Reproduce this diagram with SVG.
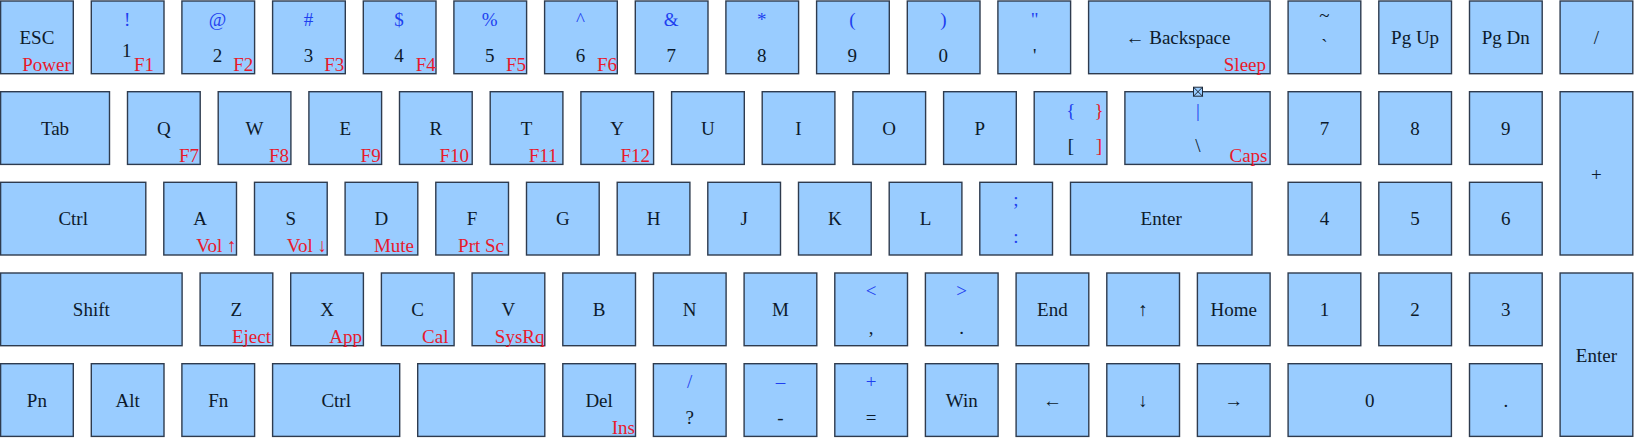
<svg xmlns="http://www.w3.org/2000/svg" width="1634" height="440" viewBox="0 0 1634 440">
<style>
.k{fill:#99ccff;stroke:#2e3b4e;stroke-width:1.4}
text{font-family:"Liberation Serif","Times New Roman",serif;font-size:19px}
.l{fill:#0d1a2b;text-anchor:middle}
.s{fill:#1e3ff0;text-anchor:middle}
.f{fill:#e8192c;text-anchor:end}
.fm{fill:#e8192c;text-anchor:middle}
.ic{fill:#99ccff;stroke:#1e2a3a;stroke-width:1}
</style>
<rect width="1634" height="440" fill="#ffffff"/>
<g id="connectors"></g>
<!-- Row 1 -->
<g id="key-esc"><rect class="k" x="0.6" y="1" width="72.7" height="72.7"/><text class="l" x="36.9" y="43.8">ESC</text><text class="f" x="70.8" y="71">Power</text></g>
<g id="key-1"><rect class="k" x="91.3" y="1" width="72.7" height="72.7"/><text class="s" x="127.1" y="26">!</text><text class="l" x="126.8" y="57">1</text><text class="f" x="154" y="71">F1</text></g>
<g id="key-2"><rect class="k" x="181.9" y="1" width="72.7" height="72.7"/><text class="s" x="217.5" y="26">@</text><text class="l" x="217.5" y="61.7">2</text><text class="f" x="253.3" y="71">F2</text></g>
<g id="key-3"><rect class="k" x="272.6" y="1" width="72.7" height="72.7"/><text class="s" x="308.4" y="26">#</text><text class="l" x="308.4" y="61.7">3</text><text class="f" x="344.3" y="71">F3</text></g>
<g id="key-4"><rect class="k" x="363.3" y="1" width="72.7" height="72.7"/><text class="s" x="399.1" y="26">$</text><text class="l" x="399.1" y="61.7">4</text><text class="f" x="435.8" y="71">F4</text></g>
<g id="key-5"><rect class="k" x="453.9" y="1" width="72.7" height="72.7"/><text class="s" x="489.7" y="26">%</text><text class="l" x="489.7" y="61.7">5</text><text class="f" x="526" y="71">F5</text></g>
<g id="key-6"><rect class="k" x="544.6" y="1" width="72.7" height="72.7"/><text class="s" x="580.4" y="26">^</text><text class="l" x="580.4" y="61.7">6</text><text class="f" x="617" y="71">F6</text></g>
<g id="key-7"><rect class="k" x="635.3" y="1" width="72.7" height="72.7"/><text class="s" x="671.2" y="26">&amp;</text><text class="l" x="671.2" y="61.7">7</text></g>
<g id="key-8"><rect class="k" x="725.9" y="1" width="72.7" height="72.7"/><text class="s" x="761.8" y="26">*</text><text class="l" x="761.8" y="61.7">8</text></g>
<g id="key-9"><rect class="k" x="816.6" y="1" width="72.7" height="72.7"/><text class="s" x="852.3" y="26">(</text><text class="l" x="852.3" y="61.7">9</text></g>
<g id="key-0"><rect class="k" x="907.3" y="1" width="72.7" height="72.7"/><text class="s" x="943.3" y="26">)</text><text class="l" x="943.3" y="61.7">0</text></g>
<g id="key-quote"><rect class="k" x="997.9" y="1" width="72.7" height="72.7"/><text class="s" x="1034.7" y="26">"</text><text class="l" x="1034.7" y="61.7">'</text></g>
<g id="key-backspace"><rect class="k" x="1088.6" y="1" width="181.5" height="72.7"/><text class="l" x="1178" y="43.8">← Backspace</text><text class="f" x="1266" y="71">Sleep</text></g>
<g id="key-tilde"><rect class="k" x="1288.1" y="1" width="72.7" height="72.7"/><text class="l" x="1324.4" y="21.5">~</text><text class="l" x="1324.4" y="52">`</text></g>
<g id="key-pgup"><rect class="k" x="1378.8" y="1" width="72.7" height="72.7"/><text class="l" x="1415.1" y="43.8">Pg Up</text></g>
<g id="key-pgdn"><rect class="k" x="1469.5" y="1" width="72.7" height="72.7"/><text class="l" x="1505.8" y="43.8">Pg Dn</text></g>
<g id="key-numslash"><rect class="k" x="1560.1" y="1" width="72.7" height="72.7"/><text class="l" x="1596.4" y="43.8">/</text></g>
<!-- Row 2 -->
<g id="key-tab"><rect class="k" x="0.6" y="91.7" width="108.9" height="72.7"/><text class="l" x="55" y="134.5">Tab</text></g>
<g id="key-q"><rect class="k" x="127.5" y="91.7" width="72.7" height="72.7"/><text class="l" x="163.8" y="134.5">Q</text><text class="f" x="199" y="161.7">F7</text></g>
<g id="key-w"><rect class="k" x="218.2" y="91.7" width="72.7" height="72.7"/><text class="l" x="254.5" y="134.5">W</text><text class="f" x="289" y="161.7">F8</text></g>
<g id="key-e"><rect class="k" x="308.9" y="91.7" width="72.7" height="72.7"/><text class="l" x="345.2" y="134.5">E</text><text class="f" x="380.7" y="161.7">F9</text></g>
<g id="key-r"><rect class="k" x="399.5" y="91.7" width="72.7" height="72.7"/><text class="l" x="435.8" y="134.5">R</text><text class="f" x="469" y="161.7">F10</text></g>
<g id="key-t"><rect class="k" x="490.2" y="91.7" width="72.7" height="72.7"/><text class="l" x="526.5" y="134.5">T</text><text class="f" x="557.5" y="161.7">F11</text></g>
<g id="key-y"><rect class="k" x="580.9" y="91.7" width="72.7" height="72.7"/><text class="l" x="617.2" y="134.5">Y</text><text class="f" x="650" y="161.7">F12</text></g>
<g id="key-u"><rect class="k" x="671.6" y="91.7" width="72.7" height="72.7"/><text class="l" x="707.9" y="134.5">U</text></g>
<g id="key-i"><rect class="k" x="762.2" y="91.7" width="72.7" height="72.7"/><text class="l" x="798.5" y="134.5">I</text></g>
<g id="key-o"><rect class="k" x="852.9" y="91.7" width="72.7" height="72.7"/><text class="l" x="889.2" y="134.5">O</text></g>
<g id="key-p"><rect class="k" x="943.6" y="91.7" width="72.7" height="72.7"/><text class="l" x="979.9" y="134.5">P</text></g>
<g id="key-bracket"><rect class="k" x="1034.2" y="91.7" width="72.7" height="72.7"/><text class="s" x="1070.8" y="116.7">{</text><text class="fm" x="1099" y="116.7">}</text><text class="l" x="1071" y="152.4">[</text><text class="fm" x="1099" y="152.4">]</text></g>
<g id="key-backslash"><rect class="k" x="1124.9" y="91.7" width="145.2" height="72.7"/><rect class="ic" x="1193.5" y="87.2" width="9" height="9"/><path d="M1193.5 87.2L1202.5 96.2M1202.5 87.2L1193.5 96.2" stroke="#1e2a3a" stroke-width="1"/><text class="s" x="1198" y="116.7">|</text><text class="l" x="1198" y="152.4">\</text><text class="f" x="1267.5" y="161.7">Caps</text></g>
<g id="key-num7"><rect class="k" x="1288.1" y="91.7" width="72.7" height="72.7"/><text class="l" x="1324.4" y="134.5">7</text></g>
<g id="key-num8"><rect class="k" x="1378.8" y="91.7" width="72.7" height="72.7"/><text class="l" x="1415.1" y="134.5">8</text></g>
<g id="key-num9"><rect class="k" x="1469.5" y="91.7" width="72.7" height="72.7"/><text class="l" x="1505.8" y="134.5">9</text></g>
<g id="key-numplus"><rect class="k" x="1560.1" y="91.7" width="72.7" height="163.3"/><text class="l" x="1596.4" y="181">+</text></g>
<!-- Row 3 -->
<g id="key-ctrl-l"><rect class="k" x="0.6" y="182.3" width="145.2" height="72.7"/><text class="l" x="73.2" y="225.1">Ctrl</text></g>
<g id="key-a"><rect class="k" x="163.8" y="182.3" width="72.7" height="72.7"/><text class="l" x="200.1" y="225.1">A</text><text class="f" x="236.5" y="252.3">Vol ↑</text></g>
<g id="key-s"><rect class="k" x="254.5" y="182.3" width="72.7" height="72.7"/><text class="l" x="290.8" y="225.1">S</text><text class="f" x="327" y="252.3">Vol ↓</text></g>
<g id="key-d"><rect class="k" x="345.1" y="182.3" width="72.7" height="72.7"/><text class="l" x="381.4" y="225.1">D</text><text class="f" x="414" y="252.3">Mute</text></g>
<g id="key-f"><rect class="k" x="435.8" y="182.3" width="72.7" height="72.7"/><text class="l" x="472.1" y="225.1">F</text><text class="f" x="504" y="252.3">Prt Sc</text></g>
<g id="key-g"><rect class="k" x="526.5" y="182.3" width="72.7" height="72.7"/><text class="l" x="562.8" y="225.1">G</text></g>
<g id="key-h"><rect class="k" x="617.2" y="182.3" width="72.7" height="72.7"/><text class="l" x="653.5" y="225.1">H</text></g>
<g id="key-j"><rect class="k" x="707.8" y="182.3" width="72.7" height="72.7"/><text class="l" x="744.1" y="225.1">J</text></g>
<g id="key-k"><rect class="k" x="798.5" y="182.3" width="72.7" height="72.7"/><text class="l" x="834.8" y="225.1">K</text></g>
<g id="key-l"><rect class="k" x="889.2" y="182.3" width="72.7" height="72.7"/><text class="l" x="925.5" y="225.1">L</text></g>
<g id="key-semicolon"><rect class="k" x="979.8" y="182.3" width="72.7" height="72.7"/><text class="s" x="1015.8" y="206.3">;</text><text class="s" x="1015.8" y="243">:</text></g>
<g id="key-enter"><rect class="k" x="1070.5" y="182.3" width="181.5" height="72.7"/><text class="l" x="1161.2" y="225.1">Enter</text></g>
<g id="key-num4"><rect class="k" x="1288.1" y="182.3" width="72.7" height="72.7"/><text class="l" x="1324.4" y="225.1">4</text></g>
<g id="key-num5"><rect class="k" x="1378.8" y="182.3" width="72.7" height="72.7"/><text class="l" x="1415.1" y="225.1">5</text></g>
<g id="key-num6"><rect class="k" x="1469.5" y="182.3" width="72.7" height="72.7"/><text class="l" x="1505.8" y="225.1">6</text></g>
<!-- Row 4 -->
<g id="key-shift"><rect class="k" x="0.6" y="273" width="181.5" height="72.7"/><text class="l" x="91.3" y="315.8">Shift</text></g>
<g id="key-z"><rect class="k" x="200.1" y="273" width="72.7" height="72.7"/><text class="l" x="236.4" y="315.8">Z</text><text class="f" x="271" y="343">Eject</text></g>
<g id="key-x"><rect class="k" x="290.7" y="273" width="72.7" height="72.7"/><text class="l" x="327" y="315.8">X</text><text class="f" x="362" y="343">App</text></g>
<g id="key-c"><rect class="k" x="381.4" y="273" width="72.7" height="72.7"/><text class="l" x="417.7" y="315.8">C</text><text class="f" x="448.5" y="343">Cal</text></g>
<g id="key-v"><rect class="k" x="472.1" y="273" width="72.7" height="72.7"/><text class="l" x="508.4" y="315.8">V</text><text class="f" x="544.5" y="343">SysRq</text></g>
<g id="key-b"><rect class="k" x="562.8" y="273" width="72.7" height="72.7"/><text class="l" x="599.1" y="315.8">B</text></g>
<g id="key-n"><rect class="k" x="653.4" y="273" width="72.7" height="72.7"/><text class="l" x="689.7" y="315.8">N</text></g>
<g id="key-m"><rect class="k" x="744.1" y="273" width="72.7" height="72.7"/><text class="l" x="780.4" y="315.8">M</text></g>
<g id="key-comma"><rect class="k" x="834.8" y="273" width="72.7" height="72.7"/><text class="s" x="871.1" y="297">&lt;</text><text class="l" x="871.1" y="333.7">,</text></g>
<g id="key-period"><rect class="k" x="925.4" y="273" width="72.7" height="72.7"/><text class="s" x="961.7" y="297">&gt;</text><text class="l" x="961.7" y="333.7">.</text></g>
<g id="key-end"><rect class="k" x="1016.1" y="273" width="72.7" height="72.7"/><text class="l" x="1052.4" y="315.8">End</text></g>
<g id="key-up"><rect class="k" x="1106.8" y="273" width="72.7" height="72.7"/><text class="l" x="1143.1" y="315.8">↑</text></g>
<g id="key-home"><rect class="k" x="1197.4" y="273" width="72.7" height="72.7"/><text class="l" x="1233.7" y="315.8">Home</text></g>
<g id="key-num1"><rect class="k" x="1288.1" y="273" width="72.7" height="72.7"/><text class="l" x="1324.4" y="315.8">1</text></g>
<g id="key-num2"><rect class="k" x="1378.8" y="273" width="72.7" height="72.7"/><text class="l" x="1415.1" y="315.8">2</text></g>
<g id="key-num3"><rect class="k" x="1469.5" y="273" width="72.7" height="72.7"/><text class="l" x="1505.8" y="315.8">3</text></g>
<g id="key-numenter"><rect class="k" x="1560.1" y="273" width="72.7" height="163.3"/><text class="l" x="1596.4" y="361.7">Enter</text></g>
<!-- Row 5 -->
<g id="key-pn"><rect class="k" x="0.6" y="363.7" width="72.7" height="72.7"/><text class="l" x="36.9" y="406.5">Pn</text></g>
<g id="key-alt"><rect class="k" x="91.3" y="363.7" width="72.7" height="72.7"/><text class="l" x="127.6" y="406.5">Alt</text></g>
<g id="key-fn"><rect class="k" x="181.9" y="363.7" width="72.7" height="72.7"/><text class="l" x="218.2" y="406.5">Fn</text></g>
<g id="key-ctrl-b"><rect class="k" x="272.6" y="363.7" width="127.1" height="72.7"/><text class="l" x="336.2" y="406.5">Ctrl</text></g>
<g id="key-space"><rect class="k" x="417.7" y="363.7" width="127.1" height="72.7"/></g>
<g id="key-del"><rect class="k" x="562.8" y="363.7" width="72.7" height="72.7"/><text class="l" x="599.1" y="406.5">Del</text><text class="f" x="635" y="434.3">Ins</text></g>
<g id="key-slash"><rect class="k" x="653.4" y="363.7" width="72.7" height="72.7"/><text class="s" x="689.7" y="387.7">/</text><text class="l" x="689.7" y="424.4">?</text></g>
<g id="key-minus"><rect class="k" x="744.1" y="363.7" width="72.7" height="72.7"/><text class="s" x="780.4" y="387.7">–</text><text class="l" x="780.4" y="424.4">-</text></g>
<g id="key-equal"><rect class="k" x="834.8" y="363.7" width="72.7" height="72.7"/><text class="s" x="871.1" y="387.7">+</text><text class="l" x="871.1" y="424.4">=</text></g>
<g id="key-win"><rect class="k" x="925.4" y="363.7" width="72.7" height="72.7"/><text class="l" x="961.7" y="406.5">Win</text></g>
<g id="key-left"><rect class="k" x="1016.1" y="363.7" width="72.7" height="72.7"/><text class="l" x="1052.4" y="406.5">←</text></g>
<g id="key-down"><rect class="k" x="1106.8" y="363.7" width="72.7" height="72.7"/><text class="l" x="1143.1" y="406.5">↓</text></g>
<g id="key-right"><rect class="k" x="1197.4" y="363.7" width="72.7" height="72.7"/><text class="l" x="1233.7" y="406.5">→</text></g>
<g id="key-num0"><rect class="k" x="1288.1" y="363.7" width="163.3" height="72.7"/><text class="l" x="1369.8" y="406.5">0</text></g>
<g id="key-numdot"><rect class="k" x="1469.5" y="363.7" width="72.7" height="72.7"/><text class="l" x="1505.8" y="406.5">.</text></g>
</svg>
